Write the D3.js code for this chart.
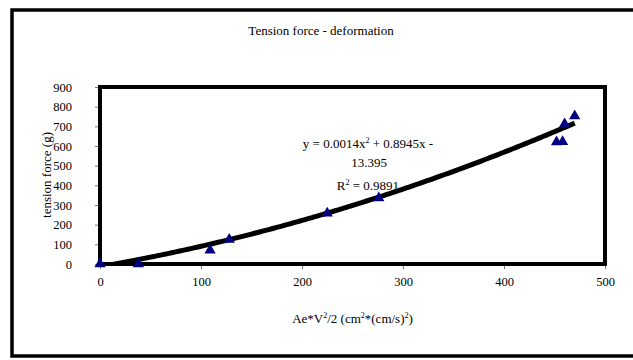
<!DOCTYPE html>
<html>
<head>
<meta charset="utf-8">
<script src="https://cdn.jsdelivr.net/npm/d3@7"></script>
<style>
  body { margin: 0; background: #fff; }
  text { font-family: "Liberation Serif", "DejaVu Serif", serif; fill: #000; }
</style>
</head>
<body>
<div class="chart"></div>
<script>
// measured points (Ae*V^2/2 vs tension force)
const xValues = [0, 38, 109, 128, 225, 276, 452, 458, 460, 470];
const yValues = [0, 0, 70, 125, 258, 335, 620, 622, 712, 752];

// trendline coefficients y = a x^2 + b x + c
const coefA = 0.0014;
const coefB = 0.8945;
const coefC = -13.395;

const xTicks = [0, 100, 200, 300, 400, 500];
const yTicks = [0, 100, 200, 300, 400, 500, 600, 700, 800, 900];

const width = 633;
const height = 360;
const margin = {left: 100, right: 28, top: 87, bottom: 96};

const svg = d3.select(".chart")
    .append("svg")
    .attr("width", width)
    .attr("height", height);

// outer frame (right side runs off the page)
svg.append("rect")
    .attr("x", 12)
    .attr("y", 10)
    .attr("width", 660)
    .attr("height", 346)
    .attr("fill", "none")
    .attr("stroke", "#000")
    .attr("stroke-width", 3.5);

const x = d3.scaleLinear().domain([0, 500]).range([margin.left, width - margin.right]);
const y = d3.scaleLinear().domain([0, 900]).range([height - margin.bottom, margin.top]);

// ticks
svg.append("g")
    .attr("transform", `translate(0,${y(0)})`)
    .call(d3.axisBottom(x).tickValues(xTicks).tickSize(5).tickPadding(8))
    .call(g => g.select(".domain").remove())
    .call(g => g.selectAll("line").attr("stroke", "#777"))
    .call(g => g.selectAll("text").attr("font-size", "12.5px"));

svg.append("g")
    .attr("transform", `translate(${x(0)},0)`)
    .call(d3.axisLeft(y).tickValues(yTicks).tickSize(5).tickPadding(23))
    .call(g => g.select(".domain").remove())
    .call(g => g.selectAll("line").attr("stroke", "#777"))
    .call(g => g.selectAll("text").attr("font-size", "12.5px"));

// plot box
svg.append("rect")
    .attr("x", x(0))
    .attr("y", y(900))
    .attr("width", x(500) - x(0))
    .attr("height", y(0) - y(900))
    .attr("fill", "none")
    .attr("stroke", "#000")
    .attr("stroke-width", 4);

svg.append("clipPath")
    .attr("id", "clip")
    .append("rect")
    .attr("x", x(0))
    .attr("y", y(900))
    .attr("width", x(500) - x(0))
    .attr("height", y(0) - y(900));

// trendline
const trend = d3.range(0, 470.1, 2).map(v => [v, coefA * v * v + coefB * v + coefC]);
svg.append("path")
    .datum(trend)
    .attr("clip-path", "url(#clip)")
    .attr("fill", "none")
    .attr("stroke", "#000")
    .attr("stroke-width", 5)
    .attr("d", d3.line().x(d => x(d[0])).y(d => y(d[1])));

// points
const points = xValues.map((v, i) => ({x: v, y: yValues[i]}));
svg.selectAll(".pt")
    .data(points)
    .enter()
    .append("path")
    .attr("class", "pt")
    .attr("d", d3.symbol().type(d3.symbolTriangle).size(55))
    .attr("transform", d => `translate(${x(d.x)},${y(d.y)})`)
    .attr("fill", "#000080");

// titles
svg.append("text")
    .attr("x", 321)
    .attr("y", 35)
    .attr("text-anchor", "middle")
    .attr("font-size", "13px")
    .text("Tension force - deformation");

svg.append("text")
    .attr("transform", "translate(51,175) rotate(-90)")
    .attr("text-anchor", "middle")
    .attr("font-size", "13px")
    .text("tension force (g)");

const xTitle = svg.append("text")
    .attr("x", (x(0) + x(500)) / 2)
    .attr("y", 323)
    .attr("text-anchor", "middle")
    .attr("font-size", "13px");
xTitle.append("tspan").text("Ae*V");
xTitle.append("tspan").attr("font-size", "8px").attr("dy", -5).text("2");
xTitle.append("tspan").attr("dy", 5).text("/2 (cm");
xTitle.append("tspan").attr("font-size", "8px").attr("dy", -5).text("2");
xTitle.append("tspan").attr("dy", 5).text("*(cm/s)");
xTitle.append("tspan").attr("font-size", "8px").attr("dy", -5).text("2");
xTitle.append("tspan").attr("dy", 5).text(")");

// equation label
const eq = svg.append("text")
    .attr("x", 368)
    .attr("y", 148)
    .attr("text-anchor", "middle")
    .attr("font-size", "13px");
eq.append("tspan").text("y = 0.0014x");
eq.append("tspan").attr("font-size", "8px").attr("dy", -5).text("2");
eq.append("tspan").attr("dy", 5).text(" + 0.8945x -");

svg.append("text")
    .attr("x", 369)
    .attr("y", 167)
    .attr("text-anchor", "middle")
    .attr("font-size", "13px")
    .text("13.395");

const r2 = svg.append("text")
    .attr("x", 368)
    .attr("y", 190)
    .attr("text-anchor", "middle")
    .attr("font-size", "13px");
r2.append("tspan").text("R");
r2.append("tspan").attr("font-size", "8px").attr("dy", -5).text("2");
r2.append("tspan").attr("dy", 5).text(" = 0.9891");
</script>
</body>
</html>
